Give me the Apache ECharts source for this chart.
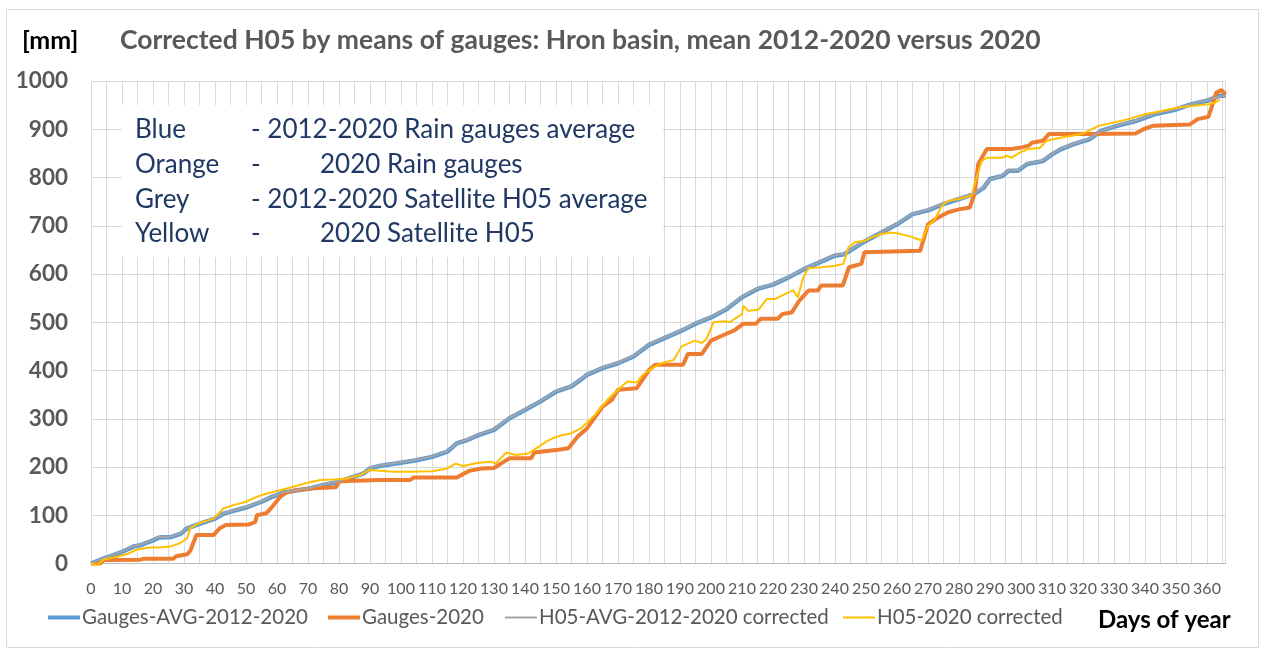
<!DOCTYPE html>
<html>
<head>
<meta charset="utf-8">
<script src="https://cdn.jsdelivr.net/npm/echarts@6/dist/echarts.min.js"></script>
<style>
  html, body { margin: 0; padding: 0; background: #ffffff; }
  #chart { width: 1265px; height: 651px; }
</style>
</head>
<body>
<div id="chart"></div>
<script>
// Cumulative precipitation [mm] by day of year, Hron basin.
// Each series is a list of [day, mm] pairs.
const gaugesAvg = [
  [0,0],[4,10],[7,17],[10,24],[14,36],[16,38],[20,48],[22,54],[26,55],[29,62],[31,73],[35,82],
  [40,93],[43,104],[46,109],[50,116],[55,128],[58,137],[62,147],[66,151],[71,156],[75,163],
  [79,168],[83,176],[88,187],[90,197],[93,202],[100,209],[105,214],[110,221],[115,232],[118,249],
  [121,255],[125,266],[130,277],[135,301],[140,318],[145,336],[150,356],[155,367],[158,381],
  [160,391],[165,405],[170,415],[175,429],[180,453],[185,467],[190,481],[195,497],[200,510],
  [205,527],[210,552],[215,569],[220,578],[225,593],[230,610],[235,624],[240,638],[243,641],
  [250,669],[255,686],[260,703],[265,724],[270,732],[275,745],[280,755],[285,766],[288,779],
  [290,797],[294,803],[296,814],[299,814],[302,828],[307,834],[310,848],[313,859],[317,869],
  [322,879],[326,897],[331,907],[337,917],[343,931],[350,941],[355,952],[360,959],[364,969],[366,970]
];

const gauges2020 = [
  [0,0],[3,0],[4,7],[16,8],[17,10],[26.5,10],[27.5,15],[31,19],[32,26],[34,59],[39.5,59],
  [41.5,73],[43.5,80],[51,81],[53,86],[53.5,100],[56.5,104],[58,114],[61,138],[63,147],[66,152],
  [72,156],[79,158],[80,170],[82.5,171],[93,173],[103,173],[104,178],[118,178],[119,182],
  [122,192],[126,197],[130,198],[133,210],[135,218],[142,218],[143,230],[150,235],[154,239],
  [157,263],[160,280],[165,325],[168,339],[170,360],[176,363],[180,401],[182,412],[191,412],
  [192.5,434],[197,434],[200,462],[203.5,472],[207.5,483],[210.5,497],[214.5,497],[216,507],
  [221.5,507],[223,517],[226,520],[228.5,545],[231.5,566],[234.5,566],[235.5,576],[242.5,576],
  [244.5,614],[248.5,621],[249.5,645],[267.5,648],[268,659],[270,703],[272.5,714],[274.5,721],
  [276.5,728],[280,734],[283.5,738],[285,766],[286.2,828],[289,859],[297,859],[300,862],
  [302.5,866],[303.5,872],[307,876],[309,890],[321,890],[337,891],[339.5,900],[342.5,907],
  [354.5,910],[357,921],[360.5,926],[363,976],[364.7,981],[366,972]
];

const h05Avg = [
  [0,0],[4,11],[7,18],[10,25],[14,37],[16,39],[20,49],[22,55],[26,56],[29,63],[31,73],[35,83],
  [40,94],[43,105],[46,110],[50,117],[55,129],[58,138],[62,148],[66,152],[71,157],[75,164],
  [79,169],[83,177],[88,188],[90,198],[93,203],[100,210],[105,215],[110,222],[115,233],[118,249],
  [121,256],[125,267],[130,278],[135,302],[140,319],[145,337],[150,357],[155,368],[158,382],
  [160,392],[165,406],[170,416],[175,430],[180,454],[185,468],[190,482],[195,498],[200,511],
  [205,528],[210,553],[215,570],[220,579],[225,594],[230,611],[235,625],[240,639],[243,642],
  [250,670],[255,687],[260,704],[265,725],[270,733],[275,747],[280,758],[285,768],[288,780],
  [290,796],[294,804],[296,815],[299,815],[302,829],[307,835],[310,849],[313,860],[317,870],
  [322,880],[326,897],[331,908],[337,918],[343,932],[350,942],[355,953],[360,960],[364,968],[366,969]
];

const h052020 = [
  [0,0],[2,-3],[4,8],[7,12],[11.5,19],[14.7,29],[19,33],[22,33],[25.5,35],[28.7,42],[31,52],
  [32,73],[35,84],[39.5,93],[42.7,114],[46,121],[50,128],[53.4,138],[56.7,145],[61,152],
  [65.3,159],[69.6,167],[74,173],[78,174],[82.5,176],[86.8,183],[90,194],[93,192],[97.5,190],
  [103,190],[110,191],[115,197],[117.6,207],[120,202],[125,209],[129,211],[130.5,207],[134,230],
  [137,225],[141,228],[142,232],[147,253],[149,260],[152,266],[155,270],[158,280],[162,304],
  [167,342],[170,360],[173,377],[176,375],[178,391],[181,405],[184,415],[188,422],[190.5,450],
  [194.8,462],[197,457],[198.6,466],[200.8,500],[204.5,502],[206,500],[210,517],[210.4,534],
  [212,524],[215.3,526],[218,548],[220.6,548],[222.8,555],[225,562],[226.5,566],[228,552],
  [229.8,593],[231.4,612],[235.7,614],[240,617],[242.7,621],[244.3,655],[246.5,666],[249.7,669],
  [251.8,676],[255,683],[257.7,686],[260.4,684],[263.6,679],[266.9,672],[268,669],[270,700],
  [272.3,714],[274.4,741],[276.6,752],[279.8,755],[284,762],[285.7,800],[287.3,834],[289,841],
  [293.8,841],[295.4,845],[297,841],[299.7,852],[302.4,859],[306,861],[308.3,876],[313,883],
  [319.6,890],[325,907],[330,914],[334.6,921],[340,931],[345.4,938],[350.8,945],[355,948],
  [360.4,952],[362.6,955],[364.2,962]
];

const seriesNames = [
  'Gauges-AVG-2012-2020',
  'Gauges-2020',
  'H05-AVG-2012-2020 corrected',
  'H05-2020 corrected'
];
const seriesColors = ['#5B9BD5', '#ED7D31', '#A5A5A5', '#FFC000'];
const seriesWidths = [4.5, 4, 2, 2];
const seriesData = [gaugesAvg, gauges2020, h05Avg, h052020];

const titleText = 'Corrected H05 by means of gauges: Hron basin, mean 2012-2020 versus 2020';
const unitText = '[mm]';
const xAxisTitle = 'Days of year';

const noteRows = [
  ['Blue',   '- 2012-2020 Rain gauges average', ''],
  ['Orange', '-', '2020 Rain gauges'],
  ['Grey',   '- 2012-2020 Satellite H05 average', ''],
  ['Yellow', '-', '2020 Satellite H05']
];

const FONT = 'Lato, "Noto Sans", sans-serif';
const GRID_COLOR = '#d9d9d9';
const LABEL_COLOR = '#595959';
const NOTE_COLOR = '#1f3864';
const NOTE_SIZE = 26;

const legendLefts = [48, 328, 505, 843];
const legendIconHeights = [4, 4, 2, 2];

const chart = echarts.init(document.getElementById('chart'), null, { renderer: 'canvas' });

// explanatory note drawn as a white box with four rows of text
const noteGraphics = [];
noteRows.forEach((row, i) => {
  const top = 130 + i * 34.7 - NOTE_SIZE / 2;
  const style = { font: NOTE_SIZE + 'px ' + FONT, fill: NOTE_COLOR };
  noteGraphics.push({ type: 'text', left: 135, top: top, style: Object.assign({ text: row[0] }, style) });
  noteGraphics.push({ type: 'text', left: 251, top: top, style: Object.assign({ text: row[1] }, style) });
  if (row[2]) {
    noteGraphics.push({ type: 'text', left: 320, top: top, style: Object.assign({ text: row[2] }, style) });
  }
});

const option = {
  animation: false,
  backgroundColor: '#ffffff',
  textStyle: { fontFamily: FONT },
  title: [
    {
      text: titleText, left: 120, top: 27, padding: 0,
      textStyle: { fontFamily: FONT, fontSize: 26.5, fontWeight: 'bold', color: LABEL_COLOR }
    },
    {
      text: unitText, left: 22, top: 28, padding: 0,
      textStyle: { fontFamily: FONT, fontSize: 25, fontWeight: 'bold', color: '#000000' }
    },
    {
      text: xAxisTitle, left: 1098, top: 608, padding: 0,
      textStyle: { fontFamily: FONT, fontSize: 24, fontWeight: 'bold', color: '#000000' }
    }
  ],
  legend: seriesNames.map((name, i) => ({
    data: [name],
    left: legendLefts[i],
    top: 607,
    icon: 'rect',
    itemWidth: 32,
    itemHeight: legendIconHeights[i],
    itemGap: 0,
    padding: 0,
    textStyle: { fontFamily: FONT, fontSize: 20.5, color: LABEL_COLOR, padding: [0, 0, 0, -3] }
  })),
  grid: { left: 91, right: 39.4, top: 81, bottom: 87.5, containLabel: false },
  xAxis: {
    type: 'value',
    min: 0,
    max: 366,
    interval: 5,
    axisLine: { show: true, lineStyle: { color: '#bfbfbf', width: 1 } },
    axisTick: { show: false },
    splitLine: { show: true, lineStyle: { color: GRID_COLOR, width: 1 } },
    axisLabel: {
      margin: 17,
      fontFamily: FONT, fontSize: 16, color: LABEL_COLOR,
      formatter: v => (v % 10 === 0 ? String(v) : '')
    }
  },
  yAxis: {
    type: 'value',
    min: 0,
    max: 1000,
    interval: 100,
    axisLine: { show: false },
    axisTick: { show: false },
    splitLine: { show: true, lineStyle: { color: GRID_COLOR, width: 1 } },
    axisLabel: {
      margin: 23,
      fontFamily: FONT, fontSize: 22.5, fontWeight: 'bold', color: LABEL_COLOR,
      formatter: v => String(v)
    }
  },
  graphic: [
    {
      type: 'rect', left: 4, top: 7, z: -10,
      shape: { width: 1252, height: 638 },
      style: { fill: 'none', stroke: GRID_COLOR, lineWidth: 1 }
    },
    {
      type: 'rect', left: 122, top: 105, z: 10,
      shape: { width: 541, height: 152 },
      style: { fill: '#ffffff', stroke: 'none' }
    }
  ].concat(noteGraphics.map(g => Object.assign({ z: 11 }, g))),
  series: seriesNames.map((name, i) => ({
    name: name,
    type: 'line',
    data: seriesData[i],
    showSymbol: false,
    symbol: 'none',
    smooth: false,
    clip: false,
    lineStyle: { color: seriesColors[i], width: seriesWidths[i] },
    itemStyle: { color: seriesColors[i] }
  }))
};

chart.setOption(option);
</script>
</body>
</html>
